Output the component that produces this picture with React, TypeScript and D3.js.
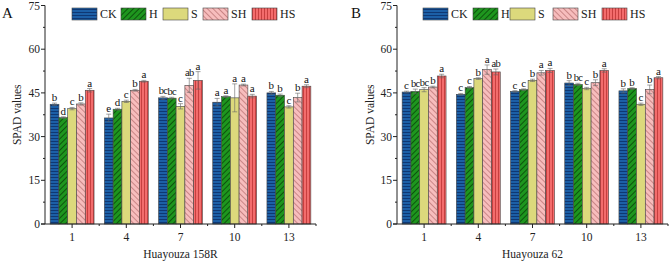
import React from "react";
import * as d3 from "d3";

const days = ["1", "4", "7", "10", "13"];
const treatments = ["CK", "H", "S", "SH", "HS"];

// Panel A: Huayouza 158R
const valuesA = [
  [41.1, 36.5, 39.6, 41.2, 45.9],
  [36.4, 39.4, 42.1, 45.9, 49.0],
  [43.3, 43.2, 40.4, 47.6, 49.3],
  [41.8, 43.7, 43.3, 47.7, 43.9],
  [45.0, 44.2, 40.2, 43.4, 47.3],
];
const errorsA = [
  [0.4, 0.3, 0.4, 0.4, 0.6],
  [1.3, 0.3, 0.4, 0.3, 0.3],
  [0.5, 0.3, 0.9, 2.4, 3.0],
  [1.3, 0.3, 4.8, 0.3, 0.6],
  [0.5, 0.4, 0.4, 1.5, 0.5],
];
const lettersA = [
  ["b", "d", "c", "b", "a"],
  ["e", "d", "c", "b", "a"],
  ["bc", "bc", "c", "ab", "a"],
  ["a", "a", "a", "a", "a"],
  ["b", "b", "c", "b", "a"],
];

// Panel B: Huayouza 62
const valuesB = [
  [45.3, 45.5, 46.1, 47.0, 50.8],
  [44.5, 46.8, 49.9, 53.0, 52.2],
  [45.5, 46.1, 49.3, 51.9, 52.7],
  [48.4, 47.9, 46.5, 48.5, 52.7],
  [45.7, 46.5, 41.1, 46.2, 50.2],
];
const errorsB = [
  [0.3, 0.8, 0.7, 0.3, 0.6],
  [0.3, 0.4, 0.3, 1.6, 1.0],
  [0.3, 0.3, 0.4, 0.8, 0.7],
  [0.8, 0.4, 0.4, 1.0, 0.6],
  [0.7, 0.3, 0.4, 1.5, 0.4],
];
const lettersB = [
  ["c", "bc", "bc", "b", "a"],
  ["c", "c", "b", "a", "ab"],
  ["c", "c", "b", "a", "a"],
  ["b", "bc", "c", "b", "a"],
  ["b", "b", "c", "b", "a"],
];

const yTicks = [0, 15, 30, 45, 60, 75];
const yMinorTicks = [7.5, 22.5, 37.5, 52.5, 67.5];

const fills = ["#1c5fa6", "#1e961e", "#dcd97c", "#f7bdbd", "#f36c6c"];
const FONT = "'Liberation Serif', 'Times New Roman', serif";
const FS = 11.5;

function Patterns() {
  return (
    <defs>
      <pattern id="p-CK" patternUnits="userSpaceOnUse" width={6} height={3}>
        <rect width={6} height={3} fill={fills[0]} />
        <line x1={0} y1={0.5} x2={6} y2={0.5} stroke="#0b2f66" strokeWidth={0.8} />
      </pattern>
      <pattern id="p-H" patternUnits="userSpaceOnUse" width={4} height={4} patternTransform="rotate(45)">
        <rect width={4} height={4} fill={fills[1]} />
        <line x1={0.5} y1={0} x2={0.5} y2={4} stroke="#0b4d0b" strokeWidth={0.9} />
      </pattern>
      <pattern id="p-S" patternUnits="userSpaceOnUse" width={4} height={4}>
        <rect width={4} height={4} fill={fills[2]} />
      </pattern>
      <pattern id="p-SH" patternUnits="userSpaceOnUse" width={4} height={4} patternTransform="rotate(-45)">
        <rect width={4} height={4} fill={fills[3]} />
        <line x1={0.5} y1={0} x2={0.5} y2={4} stroke="#b66f6f" strokeWidth={0.7} />
      </pattern>
      <pattern id="p-HS" patternUnits="userSpaceOnUse" width={3} height={6}>
        <rect width={3} height={6} fill={fills[4]} />
        <line x1={0.5} y1={0} x2={0.5} y2={6} stroke="#b52b2b" strokeWidth={0.7} />
      </pattern>
    </defs>
  );
}

type PanelProps = {
  left: number;
  right: number;
  top: number;
  bottom: number;
  values: number[][];
  errors: number[][];
  letters: string[][];
  title: string;
  xLabel: string;
  titleX: number;
  yLabelX: number;
  legendX: number[];
};

function Panel(p: PanelProps) {
  const y = d3.scaleLinear().domain([0, 75]).range([p.bottom, p.top]);
  const x = d3.scaleBand<string>().domain(days).range([p.left, p.right]).paddingInner(0).paddingOuter(0);
  const inner = d3
    .scaleBand<string>()
    .domain(treatments)
    .range([x.bandwidth() * 0.095, x.bandwidth() * 0.905])
    .padding(0);
  const bw = inner.bandwidth();
  const els: React.ReactNode[] = [];
  days.forEach((d, gi) => {
    treatments.forEach((t, ti) => {
      const v = p.values[gi][ti];
      const e = p.errors[gi][ti];
      const bx = (x(d) as number) + (inner(t) as number);
      const cx = bx + bw / 2;
      const lbl = p.letters[gi][ti];
      els.push(
        <rect
          key={`b${gi}${ti}`}
          x={bx}
          y={y(v)}
          width={bw}
          height={y(0) - y(v)}
          fill={`url(#p-${t})`}
          stroke="#444"
          strokeWidth={0.6}
        />
      );
      els.push(
        <g key={`e${gi}${ti}`} stroke="#666" strokeWidth={0.6}>
          <line x1={cx} x2={cx} y1={y(v + e)} y2={y(v - e)} />
          <line x1={cx - 2.5} x2={cx + 2.5} y1={y(v + e)} y2={y(v + e)} />
          <line x1={cx - 2.5} x2={cx + 2.5} y1={y(v - e)} y2={y(v - e)} />
        </g>
      );
      els.push(
        <text
          key={`l${gi}${ti}`}
          x={cx}
          y={y(v + e) - 2}
          textAnchor="middle"
          fontSize={lbl.length > 1 ? 10.5 : 11}
          letterSpacing={lbl.length > 1 ? -0.7 : 0}
          fontFamily={FONT}
          fill="#111"
        >
          {lbl}
        </text>
      );
    });
  });

  return (
    <g>
      {els}
      {/* Y axis */}
      <line x1={p.left} x2={p.left} y1={p.top} y2={p.bottom} stroke="#222" strokeWidth={1} />
      {yTicks.map((t) => (
        <g key={`yt${t}`}>
          <line x1={p.left - 4} x2={p.left} y1={y(t)} y2={y(t)} stroke="#222" strokeWidth={1} />
          <text
            x={p.left - 5}
            y={y(t)}
            dy="0.35em"
            textAnchor="end"
            fontSize={FS}
            fontFamily={FONT}
            fill="#222"
          >
            {t}
          </text>
        </g>
      ))}
      {yMinorTicks.map((t) => (
        <line key={`ym${t}`} x1={p.left - 2} x2={p.left} y1={y(t)} y2={y(t)} stroke="#222" strokeWidth={1} />
      ))}
      {/* X axis */}
      <line x1={p.left - 4} x2={p.right} y1={p.bottom} y2={p.bottom} stroke="#222" strokeWidth={1} />
      {days.map((d) => {
        const cx = (x(d) as number) + x.bandwidth() / 2;
        const bx = (x(d) as number) + x.bandwidth();
        return (
          <g key={`xt${d}`}>
            <line x1={cx} x2={cx} y1={p.bottom} y2={p.bottom + 4} stroke="#222" strokeWidth={1} />
            <line x1={bx} x2={bx} y1={p.bottom} y2={p.bottom + 2} stroke="#222" strokeWidth={1} />
            <text x={cx} y={p.bottom + 13} dy="0.35em" textAnchor="middle" fontSize={FS} fontFamily={FONT} fill="#222">
              {d}
            </text>
          </g>
        );
      })}
      <text
        x={(p.left + p.right) / 2}
        y={254}
        dy="0.35em"
        textAnchor="middle"
        fontSize={FS}
        fontFamily={FONT}
        fill="#222"
      >
        {p.xLabel}
      </text>
      <text
        transform={`translate(${p.yLabelX},${(p.top + p.bottom) / 2}) rotate(-90)`}
        dy="0.35em"
        textAnchor="middle"
        fontSize={FS}
        fontFamily={FONT}
        fill="#222"
      >
        SPAD values
      </text>
      <text x={p.titleX} y={18} fontSize={15} fontFamily={FONT} fill="#111">
        {p.title}
      </text>
      {/* Legend */}
      {treatments.map((t, i) => (
        <g key={`lg${t}`}>
          <rect x={p.legendX[i]} y={8} width={25} height={12} fill={`url(#p-${t})`} stroke="#444" strokeWidth={0.6} />
          <text x={p.legendX[i] + 28} y={14} dy="0.35em" fontSize={12} fontFamily={FONT} fill="#222">
            {t}
          </text>
        </g>
      ))}
    </g>
  );
}

export default function App() {
  return (
    <svg
      width={669}
      height={262}
      style={{ position: "absolute", left: 0, top: 0, background: "#fff" }}
    >
      <Patterns />
      <Panel
        left={45}
        right={316}
        top={5.5}
        bottom={224}
        values={valuesA}
        errors={errorsA}
        letters={lettersA}
        title="A"
        xLabel="Huayouza 158R"
        titleX={2}
        yLabelX={17}
        legendX={[72, 121, 163, 203, 252]}
      />
      <Panel
        left={397}
        right={668}
        top={5.5}
        bottom={224}
        values={valuesB}
        errors={errorsB}
        letters={lettersB}
        title="B"
        xLabel="Huayouza 62"
        titleX={351}
        yLabelX={370}
        legendX={[423, 473, 510, 553, 602]}
      />
    </svg>
  );
}
